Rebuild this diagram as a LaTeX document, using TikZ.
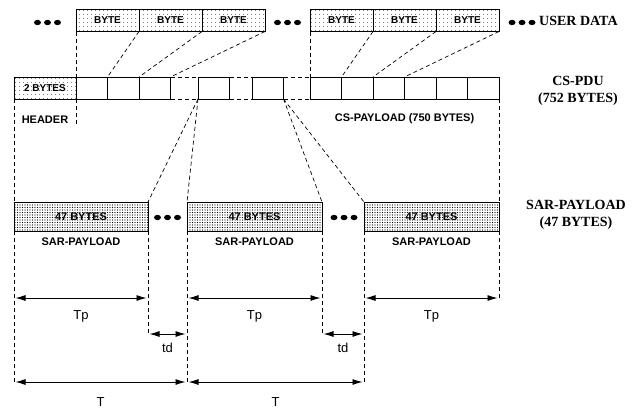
\documentclass[tikz,border=0pt]{standalone}
\usepackage{fontspec}
\setmainfont{Liberation Sans}
\newfontfamily\labelfont{Liberation Serif}
\usetikzlibrary{arrows.meta, patterns.meta, positioning, calc}

\tikzset{
    sparse/.style={pattern={Dots[distance=4pt, radius=0.5pt]}},
    dense/.style={pattern={Dots[distance=2.5pt, radius=0.65pt]}}
}

\begin{document}
\begin{tikzpicture}[x=1pt, y=-1pt,
    box/.style={draw, line width=0.9pt, inner sep=0pt, outer sep=0pt, minimum height=22pt, font=\bfseries\fontsize{10}{12}\selectfont},
    bytebox/.style={box, sparse, minimum width=63pt},
    cell/.style={box, minimum width=31.5pt},
    sarbox/.style={box, dense, minimum width=135pt, minimum height=29pt, font=\bfseries\fontsize{11}{13}\selectfont},
    guide/.style={dash pattern=on 4pt off 3pt, line width=0.7pt},
    dim/.style={{Latex[length=10pt,width=6pt]}-{Latex[length=10pt,width=6pt]}, line width=0.9pt, shorten <=1.5pt, shorten >=1.5pt},
    small/.style={inner sep=0pt, font=\bfseries\fontsize{11}{13}\selectfont},
    big/.style={inner sep=0pt, align=center, font=\labelfont\bfseries\fontsize{14}{17}\selectfont},
    tlabel/.style={inner sep=0pt, font=\fontsize{13}{15}\selectfont}]
    \useasboundingbox (0,0) rectangle (639,410);
    %\draw [step=10, very thin, lightgray] (0,0) grid (639,410);

    % user data
    \node[bytebox] (u1) at (107.5,20.5) {BYTE};
    \node[bytebox, right=0pt of u1] (u2) {BYTE};
    \node[bytebox, right=0pt of u2] (u3) {BYTE};
    \node[bytebox] (u4) at (341.5,20.5) {BYTE};
    \node[bytebox, right=0pt of u4] (u5) {BYTE};
    \node[bytebox, right=0pt of u5] (u6) {BYTE};
    \foreach \x in {47.5,287.5,522}
        \foreach \d in {-10,0,10}
            \fill (\x+\d,22.5) ellipse [x radius=3.5pt, y radius=2.7pt];
    \node[big, anchor=west] (ud) at (539,21) {USER DATA};

    % cs-pdu
    \node[box, sparse, minimum width=62pt] (h) at (45,88) {2 BYTES};
    \node[cell, right=0pt of h] (c1) {};
    \node[cell, right=0pt of c1] (c2) {};
    \node[cell, right=0pt of c2] (c3) {};
    \node[cell] (c4) at (213.75,88) {};
    \node[cell] (c5) at (267.75,88) {};
    \node[cell] (c6) at (325.75,88) {};
    \foreach \i [count=\j from 6] in {7,...,11}
        \node[cell, right=0pt of c\j] (c\i) {};
    \foreach \a/\b in {c3/c4, c4/c5, c5/c6} {
        \draw[guide, line width=0.9pt] (\a.north east) -- (\b.north west);
        \draw[guide, line width=0.9pt] (\a.south east) -- (\b.south west);
    }
    \node[small, below=17pt of h.south] (hd) {HEADER};
    \node[small, below=14pt of c8.south east] (csp) {CS-PAYLOAD (750 BYTES)};
    \node[big] (pdu) at (578,91) {CS-PDU\\(752 BYTES)};

    \draw[guide] (u1.south west) -- (c1.north west);
    \draw[guide] (u1.south east) -- (c2.north west);
    \draw[guide] (u2.south east) -- (c3.north west);
    \draw[guide] (u3.south east) -- (c3.north east);
    \draw[guide] (u4.south west) -- (c6.north west);
    \draw[guide] (u4.south east) -- (c7.north west);
    \draw[guide] (u5.south east) -- (c8.north west);
    \draw[guide] (u6.south east) -- (c8.north east);

    % sar-payload
    \node[sarbox, minimum width=134pt] (s1) at (81,216.5) {47 BYTES};
    \node[sarbox] (s2) at (254.5,216.5) {47 BYTES};
    \node[sarbox] (s3) at (431.5,216.5) {47 BYTES};
    \foreach \s in {1,2,3}
        \node[small, below=7pt of s\s] (sl\s) {SAR-PAYLOAD};
    \foreach \x in {167.5,344}
        \foreach \d in {-10,0,10}
            \fill (\x+\d,217.5) ellipse [x radius=3.5pt, y radius=2.7pt];
    \node[big] (sar) at (576,215) {SAR-PAYLOAD\\(47 BYTES)};

    \draw[guide] (h.south west) -- (s1.north west);
    \draw[guide] (h.south east) -- ++(0,27);
    \draw[guide] (c11.south east) -- (s3.north east);
    \draw[guide] (c4.south west) -- (s1.north east);
    \draw[guide] (c4.south west) -- (s2.north west);
    \draw[guide] (c5.south east) -- (s2.north east);
    \draw[guide] (c5.south east) -- (s3.north west);

    % timing
    \coordinate (ta) at (s1.south west |- 0,382);
    \coordinate (tb) at (s2.south west |- 0,382);
    \coordinate (tc) at (s3.south west |- 0,382);
    \coordinate (da) at (s1.south east |- 0,334);
    \coordinate (db) at (s2.south east |- 0,334);
    \coordinate (pc) at (s3.south east |- 0,298);
    \draw[guide] (s1.south west) -- (ta);
    \draw[guide] (s1.south east) -- (da);
    \draw[guide] (s2.south west) -- (tb);
    \draw[guide] (s2.south east) -- (db);
    \draw[guide] (s3.south west) -- (tc);
    \draw[guide] (s3.south east) -- (pc);

    \draw[dim] (s1.south west |- pc) -- (s1.south east |- pc) node[tlabel, midway, below=12pt] (tp1) {Tp};
    \draw[dim] (s2.south west |- pc) -- (s2.south east |- pc) node[tlabel, midway, below=12pt] (tp2) {Tp};
    \draw[dim] (s3.south west |- pc) -- (pc) node[tlabel, midway, below=12pt] (tp3) {Tp};
    \draw[dim] (da) -- (da -| s2.south west) node[tlabel, midway, below=9pt] (td1) {td};
    \draw[dim] (db) -- (db -| s3.south west) node[tlabel, midway, below=9pt] (td2) {td};
    \draw[dim] (ta) -- (tb) node[tlabel, midway, below=15pt] (t1) {T};
    \draw[dim] (tb) -- (tc) node[tlabel, midway, below=15pt] (t2) {T};
\end{tikzpicture}
\end{document}
